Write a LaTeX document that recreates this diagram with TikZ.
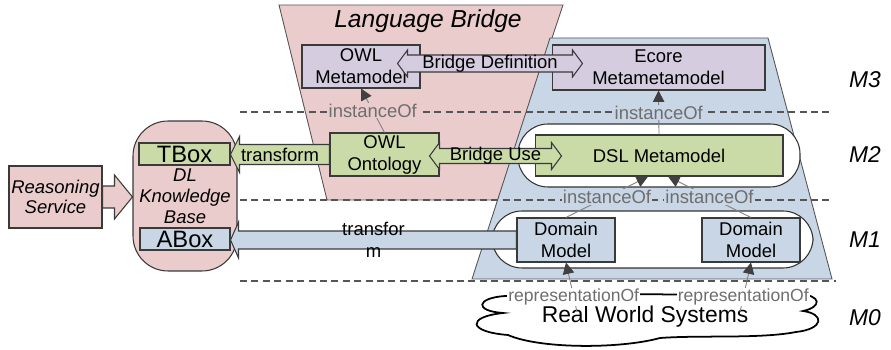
\documentclass[tikz,border=0pt]{standalone}
\usepackage{fontspec}
\setmainfont{Liberation Sans}
\usetikzlibrary{calc,arrows.meta}

\definecolor{pinkfill}{HTML}{EACCCC}
\definecolor{purplefill}{HTML}{D5CCE0}
\definecolor{greenfill}{HTML}{CADBA8}
\definecolor{bluefill}{HTML}{C8D6E6}
\definecolor{boxgray}{HTML}{3A3A3A}
\definecolor{dashgray}{HTML}{555555}
\definecolor{linegray}{HTML}{808080}
\definecolor{tipgray}{HTML}{404040}
\definecolor{labelgray}{HTML}{6E6E6E}

% block arrow: style, tail, tip, shaft half width, head half width, head length
\newcommand{\fatarrow}[6]{%
  \draw[#1] ($(#2)+(0,-#4)$) -- ($(#3)+(#6,-#4)$) -- ($(#3)+(#6,-#5)$) -- (#3)
    -- ($(#3)+(#6,#5)$) -- ($(#3)+(#6,#4)$) -- ($(#2)+(0,#4)$) -- cycle;}
% double block arrow: style, left tip, right tip, shaft half width, head half width, head length
\newcommand{\dfatarrow}[6]{%
  \draw[#1] (#2) -- ($(#2)+(#6,-#5)$) -- ($(#2)+(#6,-#4)$) -- ($(#3)+(-#6,-#4)$)
    -- ($(#3)+(-#6,-#5)$) -- (#3) -- ($(#3)+(-#6,#5)$) -- ($(#3)+(-#6,#4)$)
    -- ($(#2)+(#6,#4)$) -- ($(#2)+(#6,#5)$) -- cycle;}

\begin{document}
\begin{tikzpicture}
  [x=0.02cm, y=-0.02cm,
   font=\fontsize{10.5}{12.5}\selectfont,
   box/.style={draw=boxgray, line width=0.6pt, align=center, inner sep=1pt},
   zone/.style={draw=dashgray, line width=0.5pt},
   lane/.style={draw=black!80, fill=white, line width=0.6pt, rounded corners=0.6cm},
   fat/.style={draw=boxgray, line width=0.6pt, line join=miter},
   inst/.style={draw=linegray, line width=0.5pt, -{Triangle[length=6.5pt,width=6.5pt,color=tipgray]}},
   lbl/.style={text=labelgray, inner sep=0.6pt},
   level/.style={draw=dashgray, dashed, dash pattern=on 4pt off 2.5pt, line width=0.6pt},
   mlabel/.style={font=\fontsize{13}{15}\selectfont\itshape}]

  \useasboundingbox (0,0) rectangle (891,350);

  % zones
  \draw[zone, fill=pinkfill] (279,5) -- (563,5) -- (498,200) -- (327,200) -- cycle;
  \draw[zone, fill=bluefill] (550,38) -- (768,38) -- (832,279) -- (472,279) -- cycle;
  \node[font=\fontsize{14}{16}\selectfont\itshape] (lb) at (428,21) {Language Bridge};

  % meta levels
  \draw[level] (240,112) -- (830,112);
  \draw[level] (240,200) -- (830,200);
  \draw[level] (240,281) -- (836,281);
  \node[mlabel] (m3) at (865,80) {M3};
  \node[mlabel] (m2) at (865,155) {M2};
  \node[mlabel] (m1) at (865,240) {M1};
  \node[mlabel] (m0) at (865,318) {M0};

  \draw[lane] (518,124) rectangle (800,187);
  \draw[lane] (492,211) rectangle (813,268);

  % boxes
  \node[box, fill=purplefill, minimum width=2.36cm, minimum height=0.86cm] (owlmm) at (361,66.5) {OWL\\Metamodel};
  \node[box, fill=purplefill, minimum width=4.26cm, minimum height=0.9cm] (ecore) at (658.5,67.5) {Ecore\\Metametamodel};
  \node[box, fill=greenfill, minimum width=2.18cm, minimum height=0.86cm] (ont) at (384.5,154.5) {OWL\\Ontology};
  \node[box, fill=greenfill, minimum width=4.96cm, minimum height=0.82cm] (dsl) at (659,155.5) {DSL Metamodel};
  \node[box, fill=bluefill, minimum width=1.96cm, minimum height=0.88cm] (dm1) at (566,240) {Domain\\Model};
  \node[box, fill=bluefill, minimum width=1.96cm, minimum height=0.88cm] (dm2) at (751,240) {Domain\\Model};

  \node[box, fill=pinkfill, rounded corners=0.7cm, minimum width=2.08cm, minimum height=3cm, font=\fontsize{10.5}{12}\selectfont\itshape] (kb) at (185,196) {DL\\Knowledge\\Base};
  \node[box, fill=greenfill, minimum width=1.82cm, minimum height=0.44cm, font=\fontsize{13.5}{15}\selectfont] (tbox) at (184.5,154) {TBox};
  \node[box, fill=bluefill, minimum width=1.8cm, minimum height=0.44cm, font=\fontsize{13.5}{15}\selectfont] (abox) at (185,239) {ABox};
  \node[box, fill=pinkfill, minimum width=1.86cm, minimum height=1.24cm, font=\fontsize{10.5}{11.5}\selectfont\itshape] (rs) at (55.5,197) {Reasoning\\Service};

  % real world
  \draw[line width=1pt, line cap=round] (505,296)
    .. controls (600,291) and (700,297) .. (798,294)
    .. controls (822,295) and (822,307) .. (803,311)
    .. controls (825,314) and (824,329) .. (796,332)
    .. controls (760,339) and (700,335) .. (660,338)
    .. controls (620,349) and (540,349) .. (508,335)
    .. controls (468,332) and (466,317) .. (503,313)
    .. controls (474,311) and (476,298) .. (505,296);
  \node[font=\fontsize{13}{15}\selectfont] (rws) at (645,317) {Real World Systems};

  % block arrows
  \coordinate (t1) at (tbox.east |- ont.west);
  \fatarrow{fat, fill=greenfill}{ont.west}{t1}{10}{18}{9}
  \node (tf1) at ($(t1)!0.5!(ont.west)$) {transform};

  \coordinate (t2) at (abox.east |- dm1.west);
  \fatarrow{fat, fill=bluefill}{dm1.west}{t2}{9}{18}{8}
  \node[align=center] (tf2) at ($(t2)!0.5!(dm1.west)$) {transfor\\m};

  \coordinate (t3) at (kb.west |- rs.east);
  \fatarrow{fat, fill=pinkfill}{rs.east}{t3}{11}{22}{-18}

  \coordinate (bd1) at ($(owlmm.east)+(-23,-3)$);
  \coordinate (bd2) at ($(bd1 -| ecore.west)+(31,0)$);
  \dfatarrow{fat, fill=purplefill}{bd1}{bd2}{8.5}{13.5}{10}
  \node (bdtext) at ($(bd1)!0.5!(bd2)$) {Bridge Definition};

  \coordinate (bu1) at ($(ont.east)+(-10,1.5)$);
  \coordinate (bu2) at ($(bu1 -| dsl.west)+(27,0)$);
  \dfatarrow{fat, fill=greenfill}{bu1}{bu2}{7.5}{13.5}{10}
  \node (butext) at ($(bu1)!0.5!(bu2)$) {Bridge Use};

  % instanceOf
  \coordinate (d1) at ($(dsl.south)+(-11,0)$);
  \coordinate (d2) at ($(dsl.south)+(9,0)$);
  \draw[inst] (ont.north) -- node[lbl, fill=pinkfill] (io1) {instanceOf} (owlmm.south);
  \draw[inst] (dsl.north) -- node[lbl, fill=bluefill] (io2) {instanceOf} (ecore.south);
  \draw[inst] (dm1.north) -- node[lbl, fill=bluefill] (io3) {instanceOf} (d1);
  \draw[inst] (dm2.north) -- node[lbl, fill=bluefill] (io4) {instanceOf} (d2);

  % representationOf
  \coordinate (r1) at (577,312);
  \coordinate (r2) at (740,312);
  \draw[inst] (r1) -- node[lbl, fill=white, pos=0.3, font=\fontsize{10}{12}\selectfont] (ro1) {representationOf} (dm1.south);
  \draw[inst] (r2) -- node[lbl, fill=white, pos=0.3, font=\fontsize{10}{12}\selectfont] (ro2) {representationOf} (dm2.south);

\end{tikzpicture}
\end{document}
